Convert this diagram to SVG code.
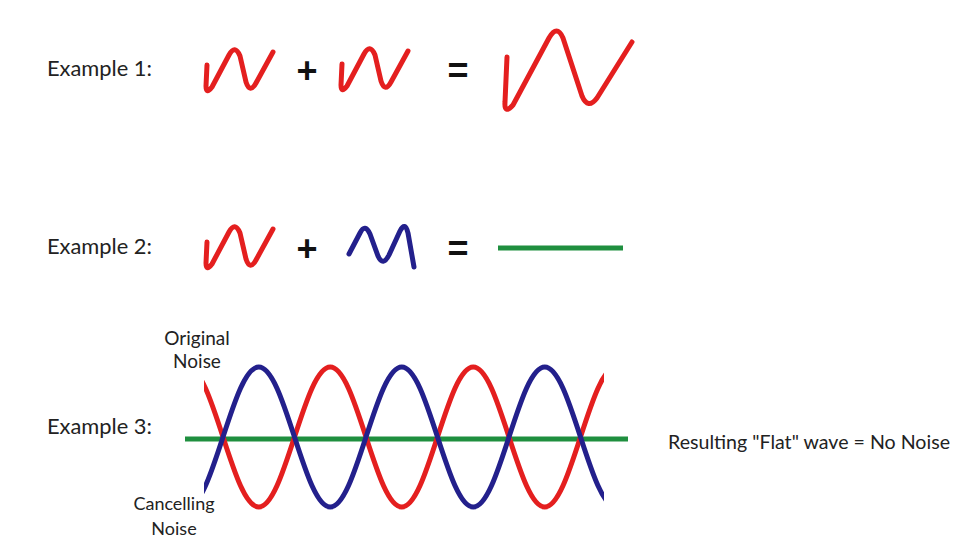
<svg xmlns="http://www.w3.org/2000/svg" width="973" height="544" viewBox="0 0 973 544">
<style>
.lbl{font-family:Lato,"Liberation Sans",sans-serif;font-size:22px;fill:#222}
.sm{font-family:Lato,"Liberation Sans",sans-serif;font-size:19px;fill:#222}
.sm2{font-family:Lato,"Liberation Sans",sans-serif;font-size:18px;fill:#222}
.op{font-family:"Liberation Sans",Arial,sans-serif;font-size:36px;font-weight:bold;fill:#111;text-anchor:middle}
.w{fill:none;stroke-width:5;stroke-linecap:round;stroke-linejoin:round}
.w3{fill:none;stroke-width:5;stroke-linecap:butt}
.red{stroke:#e41f1f}
.blue{stroke:#23208c}
.green{stroke:#1f8f3f}
</style>
<defs>
<path id="smallw" d="M207,65 L206,86 Q206,95 212,87 L229,55 Q235,44 240,56 L246,82 Q250,94 256,83 L273,52"/>
<clipPath id="cp"><rect x="204" y="340" width="400" height="190"/></clipPath>
</defs>
<rect width="973" height="544" fill="#fff"/>

<g id="example1">
<text class="lbl" x="47" y="76" textLength="105" lengthAdjust="spacingAndGlyphs">Example 1:</text>
<use href="#smallw" class="w red"/>
<text class="op" x="307" y="83">+</text>
<use href="#smallw" class="w red" transform="translate(135,-1)"/>
<text class="op" x="458" y="83">=</text>
<path class="w red" d="M507,57 L505,102 Q504,115 513,105 L549,38 Q557,24 563,38 L582,96 Q588,110 597,98 L632,42"/>
</g>

<g id="example2">
<text class="lbl" x="47" y="254" textLength="105" lengthAdjust="spacingAndGlyphs">Example 2:</text>
<use href="#smallw" class="w red" transform="translate(0,177)"/>
<text class="op" x="307" y="261">+</text>
<path class="w blue" d="M349,254 L360,233 Q365,223 370,234 L378,256 Q383,267 389,255 L400,231 Q405,221 408,233 L414,267"/>
<text class="op" x="458" y="261">=</text>
<line class="w3 green" x1="498" y1="248" x2="623" y2="248"/>
</g>

<g id="example3">
<text class="lbl" x="47" y="434" textLength="105" lengthAdjust="spacingAndGlyphs">Example 3:</text>
<line class="w3 green" x1="185" y1="439" x2="628" y2="439"/>
<g clip-path="url(#cp)">
<path class="w3 red" d="M187.25,367 c12.86,0 23.8,33.24 35.75,70 s22.89,70 35.75,70 s23.8,-33.24 35.75,-70 s22.89,-70 35.75,-70 s23.8,33.24 35.75,70 s22.89,70 35.75,70 s23.8,-33.24 35.75,-70 s22.89,-70 35.75,-70 s23.8,33.24 35.75,70 s22.89,70 35.75,70 s23.8,-33.24 35.75,-70 s22.89,-70 35.75,-70"/>
<path class="w3 blue" d="M187.25,507 c12.86,0 23.8,-33.24 35.75,-70 s22.89,-70 35.75,-70 s23.8,33.24 35.75,70 s22.89,70 35.75,70 s23.8,-33.24 35.75,-70 s22.89,-70 35.75,-70 s23.8,33.24 35.75,70 s22.89,70 35.75,70 s23.8,-33.24 35.75,-70 s22.89,-70 35.75,-70 s23.8,33.24 35.75,70 s22.89,70 35.75,70"/>
</g>
<text class="sm" x="197" y="345" text-anchor="middle">Original</text>
<text class="sm" x="197" y="368" text-anchor="middle">Noise</text>
<text class="sm2" x="174" y="510" text-anchor="middle">Cancelling</text>
<text class="sm2" x="174" y="535" text-anchor="middle">Noise</text>
<text class="sm" x="668" y="449" textLength="282" lengthAdjust="spacingAndGlyphs">Resulting "Flat" wave = No Noise</text>
</g>
</svg>
